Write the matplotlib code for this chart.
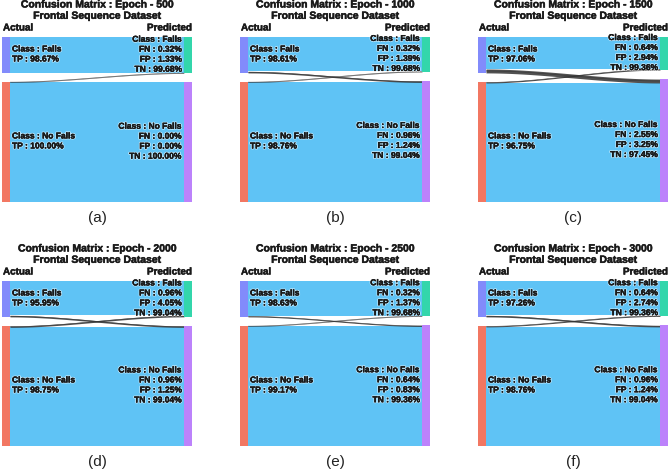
import numpy as np
import matplotlib
matplotlib.use('Agg')
import matplotlib.pyplot as plt
from matplotlib.patches import Rectangle
import matplotlib.patheffects as pe

# data
epochs = [500, 1000, 1500, 2000, 2500, 3000]
panel_tags = ['(a)', '(b)', '(c)', '(d)', '(e)', '(f)']
tp_falls = [98.67, 98.61, 97.06, 95.95, 98.63, 97.26]
fn_falls = [0.32, 0.32, 0.64, 0.96, 0.32, 0.64]
fp_falls = [1.33, 1.39, 2.94, 4.05, 1.37, 2.74]
tn_falls = [99.68, 99.68, 99.36, 99.04, 99.68, 99.36]
tp_nofalls = [100.00, 98.76, 96.75, 98.75, 99.17, 98.76]
fn_nofalls = [0.00, 0.96, 2.55, 0.96, 0.64, 0.96]
fp_nofalls = [0.00, 1.24, 3.25, 1.25, 0.83, 1.24]
tn_nofalls = [100.00, 99.04, 97.45, 99.04, 99.36, 99.04]
n_falls = 311     # estimated sample counts (node sizes)
n_nofalls = 1040

W, H = 669, 473
fig = plt.figure(figsize=(W / 100, H / 100), dpi=100)

FONT = 'Liberation Sans'
ink = '#1a1a1a'
heavy = [pe.Stroke(linewidth=0.35, foreground=ink), pe.Normal()]
halo = [pe.withStroke(linewidth=1.5, foreground='white', alpha=0.55),
        pe.Stroke(linewidth=0.2, foreground=ink), pe.Normal()]
c_left = ['#828BFB', '#F27762']
c_right = ['#33D6AB', '#BC82FB']
c_ok = '#5FC3F5'
c_bad = (0.2, 0.2, 0.2, 0.85)


def fx(x):
    return x / W


def fy(y):
    return 1 - y / H


def smooth(t):
    return 3 * t ** 2 - 2 * t ** 3


def link(ax, x0, x1, a_top, a_bot, b_top, b_bot, color, edge=False):
    xs = np.linspace(x0, x1, 120)
    s = smooth((xs - x0) / (x1 - x0))
    top = a_top + (b_top - a_top) * s
    bot = a_bot + (b_bot - a_bot) * s
    ax.fill_between(xs, top, bot, color=color, lw=0)
    if edge:
        ax.plot(xs, (top + bot) / 2, color=color, lw=0.4, solid_capstyle='butt')


col_x = [2, 240, 478]
pw, ph = 190, 165
nw = 8
gap = 9

for i in range(6):
    col, row = i % 3, i // 3
    x_left = col_x[col]
    y_top = 37 + 244 * row
    ax = fig.add_axes([fx(x_left), fy(y_top + ph), pw / W, ph / H])
    ax.set_xlim(0, pw)
    ax.set_ylim(ph, 0)
    ax.axis('off')

    scale = (ph - gap) / (n_falls + n_nofalls)
    x_mis = fp_nofalls[i] / 100 * n_nofalls   # left falls -> right no falls
    y_mis = fp_falls[i] / 100 * n_falls       # left no falls -> right falls
    ff = (n_falls - x_mis) * scale
    fn = x_mis * scale
    nf = y_mis * scale
    nn = (n_nofalls - y_mis) * scale

    # left nodes
    lf_top, lf_bot = 0, ff + fn
    ln_top = lf_bot + gap
    ln_bot = ln_top + nf + nn
    # right nodes
    rf_top, rf_bot = 0, ff + nf
    rn_top = rf_bot + gap
    rn_bot = rn_top + fn + nn

    x0, x1 = nw, pw - nw
    link(ax, x0, x1, lf_top, lf_top + ff, rf_top, rf_top + ff, c_ok)
    link(ax, x0, x1, ln_top + nf, ln_bot, rn_top + fn, rn_bot, c_ok)
    if fn > 0:
        link(ax, x0, x1, lf_top + ff, lf_bot, rn_top, rn_top + fn, c_bad, edge=True)
    if nf > 0:
        link(ax, x0, x1, ln_top, ln_top + nf, rf_top + ff, rf_bot, c_bad, edge=True)

    ax.add_patch(Rectangle((0, lf_top), nw, lf_bot - lf_top, color=c_left[0], lw=0))
    ax.add_patch(Rectangle((0, ln_top), nw, ln_bot - ln_top, color=c_left[1], lw=0))
    ax.add_patch(Rectangle((pw - nw, rf_top), nw, rf_bot - rf_top, color=c_right[0], lw=0))
    ax.add_patch(Rectangle((pw - nw, rn_top), nw, rn_bot - rn_top, color=c_right[1], lw=0))

    tkw = dict(fontsize=6.1, fontweight='bold', family=FONT, color=ink,
               va='center', path_effects=halo, clip_on=False)
    # left labels
    mid = (lf_top + lf_bot) / 2
    ax.text(nw + 2, mid - 5, 'Class : Falls', ha='left', **tkw)
    ax.text(nw + 2, mid + 5, 'TP : %.2f%%' % tp_falls[i], ha='left', **tkw)
    mid = (ln_top + ln_bot) / 2
    ax.text(nw + 2, mid - 5, 'Class : No Falls', ha='left', **tkw)
    ax.text(nw + 2, mid + 5, 'TP : %.2f%%' % tp_nofalls[i], ha='left', **tkw)
    # right labels
    mid = (rf_top + rf_bot) / 2
    lines = ['Class : Falls', 'FN : %.2f%%' % fn_falls[i],
             'FP : %.2f%%' % fp_falls[i], 'TN : %.2f%%' % tn_falls[i]]
    for k, s in enumerate(lines):
        ax.text(pw - nw - 1.5, mid - 15 + 10 * k, s, ha='right', **tkw)
    mid = (rn_top + rn_bot) / 2
    lines = ['Class : No Falls', 'FN : %.2f%%' % fn_nofalls[i],
             'FP : %.2f%%' % fp_nofalls[i], 'TN : %.2f%%' % tn_nofalls[i]]
    for k, s in enumerate(lines):
        ax.text(pw - nw - 1.5, mid - 15 + 10 * k, s, ha='right', **tkw)

    # titles and captions
    cx = x_left + pw / 2
    dy = 244 * row
    hkw = dict(fontweight='bold', family=FONT, color=ink, va='center', path_effects=heavy)
    fig.text(fx(cx), fy(4.5 + dy), 'Confusion Matrix : Epoch - %d' % epochs[i],
             ha='center', fontsize=7.5, **hkw)
    fig.text(fx(cx), fy(15.8 + dy), 'Frontal Sequence Dataset',
             ha='center', fontsize=7.5, **hkw)
    fig.text(fx(x_left + 1), fy(27.5 + dy), 'Actual', ha='left', fontsize=7.1, **hkw)
    fig.text(fx(x_left + pw), fy(27.5 + dy), 'Predicted', ha='right', fontsize=7.1, **hkw)
    fig.text(fx(cx), fy(218 + dy), panel_tags[i], ha='center', va='center',
             fontsize=11, family=FONT, color='#222222')

fig.savefig('out.png', dpi=100)
